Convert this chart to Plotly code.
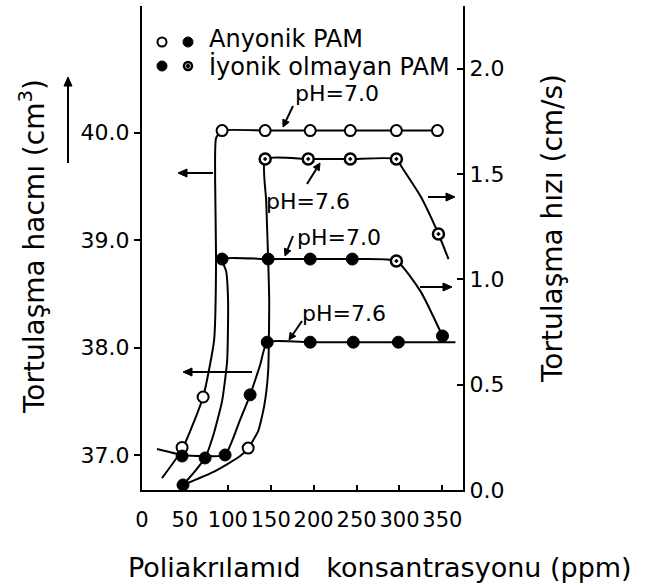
import math
import plotly.graph_objects as go

# ---------------- data ----------------
# Anyonik PAM, pH 7.0 - tortulaşma hacmi (cm3), open circles (left axis)
v70_mx = [46.7, 71.2, 93.3, 143.5, 196.0, 242.7, 296.4, 344.2]
v70_my = [37.07, 37.54, 40.02, 40.02, 40.02, 40.02, 40.02, 40.02]
v70_lx = [23.3, 46.7, 71.2, 84.0, 86.3, 85.2, 86.3, 93.3, 143.5, 196.0, 242.7, 296.4, 344.2]
v70_ly = [36.785, 37.05, 37.54, 38.07, 38.82, 39.56, 39.95, 40.02, 40.02, 40.02, 40.02, 40.02, 40.02]

# İyonik olmayan PAM, pH 7.6 - tortulaşma hızı (cm/s), half markers (right axis)
s76_mx = [143.5, 193.7, 242.7, 296.4, 345.4]
s76_my = [1.571, 1.571, 1.571, 1.571, 1.215]
s76_lx = [47.8, 85.2, 114.4, 123.7, 135.4, 142.4, 147.0, 148.2, 147.0, 144.7, 143.5,
          193.7, 242.7, 296.4, 303.4, 324.4, 345.4, 357.1]
s76_ly = [0.024, 0.090, 0.161, 0.199, 0.280, 0.399, 0.565, 0.897, 1.096, 1.372, 1.571,
          1.571, 1.571, 1.571, 1.528, 1.395, 1.215, 1.096]
s_open_x = [123.7]
s_open_y = [0.199]

# Anyonik PAM, pH 7.0 - tortulaşma hızı (cm/s), filled (right axis)
s70_mx = [47.8, 73.5, 93.3, 147.0, 196.0, 245.0, 350.1]
s70_my = [0.024, 0.152, 1.096, 1.096, 1.096, 1.096, 0.731]
s70_hx = [296.4]
s70_hy = [1.087]
s70_lx = [47.8, 61.8, 73.5, 82.8, 93.3, 99.2, 100.3, 98.0, 93.3, 147.0, 196.0, 245.0,
          296.4, 324.4, 350.1]
s70_ly = [0.024, 0.090, 0.152, 0.256, 0.422, 0.612, 0.897, 1.039, 1.096, 1.096, 1.096,
          1.096, 1.087, 0.944, 0.731]

# İyonik olmayan PAM, pH 7.6 - tortulaşma hacmi (cm3), filled (left axis)
v76_mx = [46.7, 96.8, 126.0, 145.9, 196.0, 246.2, 298.7]
v76_my = [36.99, 37.0, 37.56, 38.05, 38.05, 38.05, 38.05]
v76_lx = [17.5, 46.7, 73.5, 96.8, 114.4, 126.0, 137.7, 145.9, 196.0, 246.2, 298.7, 365.2]
v76_ly = [37.055, 37.0, 36.99, 37.0, 37.33, 37.56, 37.84, 38.05, 38.05, 38.05, 38.05, 38.05]

x_ticks = [0, 50, 100, 150, 200, 250, 300, 350]
y_ticks = [37.0, 38.0, 39.0, 40.0]
y2_ticks = [0.0, 0.5, 1.0, 1.5, 2.0]

# ---------------- layout geometry ----------------
W, H = 645, 588
L, R, T, B = 142, 182, 6, 98
PW, PH = W - L - R, H - T - B


def px(x):
    return (x - L) / PW


def py(y):
    return (H - B - y) / PH


FONT = "DejaVu Sans"
BLACK = "black"

fig = go.Figure()

line_style = dict(color=BLACK, width=2, shape="spline", smoothing=0.5)

fig.add_trace(go.Scatter(x=v70_lx, y=v70_ly, mode="lines", line=line_style, yaxis="y"))
fig.add_trace(go.Scatter(x=v76_lx, y=v76_ly, mode="lines", line=line_style, yaxis="y"))
fig.add_trace(go.Scatter(x=s76_lx, y=s76_ly, mode="lines", line=line_style, yaxis="y2"))
fig.add_trace(go.Scatter(x=s70_lx, y=s70_ly, mode="lines", line=line_style, yaxis="y2"))

open_m = dict(symbol="circle", size=11, color="white", line=dict(color=BLACK, width=2))
fill_m = dict(symbol="circle", size=12, color=BLACK, line=dict(color=BLACK, width=1))
half_m = dict(symbol="circle-dot", size=11, color="white", line=dict(color=BLACK, width=2.5))

fig.add_trace(go.Scatter(x=v70_mx, y=v70_my, mode="markers", marker=open_m, yaxis="y"))
fig.add_trace(go.Scatter(x=v76_mx, y=v76_my, mode="markers", marker=fill_m, yaxis="y"))
fig.add_trace(go.Scatter(x=s76_mx, y=s76_my, mode="markers", marker=half_m, yaxis="y2"))
fig.add_trace(go.Scatter(x=s_open_x, y=s_open_y, mode="markers", marker=open_m, yaxis="y2"))
fig.add_trace(go.Scatter(x=s70_mx, y=s70_my, mode="markers", marker=fill_m, yaxis="y2"))
fig.add_trace(go.Scatter(x=s70_hx, y=s70_hy, mode="markers", marker=half_m, yaxis="y2"))

annotations = []
shapes = []


def text(xp, yp, s, size=22, angle=0, xanchor="center"):
    annotations.append(dict(x=px(xp), y=py(yp), xref="paper", yref="paper", text=s,
                            showarrow=False, textangle=angle, xanchor=xanchor,
                            yanchor="middle", font=dict(family=FONT, size=size, color=BLACK)))


def arrow(x0, y0, x1, y1, hl=9, hw=4):
    dx, dy = x1 - x0, y1 - y0
    d = math.hypot(dx, dy)
    ux, uy = dx / d, dy / d
    bx, by = x1 - ux * hl, y1 - uy * hl
    shapes.append(dict(type="line", xref="paper", yref="paper",
                       x0=px(x0), y0=py(y0), x1=px(bx), y1=py(by),
                       line=dict(color=BLACK, width=2)))
    p1 = (bx - uy * hw, by + ux * hw)
    p2 = (bx + uy * hw, by - ux * hw)
    path = (f"M {px(x1)} {py(y1)} L {px(p1[0])} {py(p1[1])} "
            f"L {px(p2[0])} {py(p2[1])} Z")
    shapes.append(dict(type="path", xref="paper", yref="paper", path=path,
                       fillcolor=BLACK, line=dict(color=BLACK, width=1)))


# pH labels
text(337, 94, "pH=7.0")
text(308, 201, "pH=7.6")
text(339, 237, "pH=7.0")
text(344, 313, "pH=7.6")
arrow(293, 106, 283, 127, hl=7, hw=3.5)
arrow(307, 184, 320, 163, hl=7, hw=3.5)
arrow(293, 236, 285, 256, hl=7, hw=3.5)
arrow(302, 321, 289, 340, hl=7, hw=3.5)

# direction arrows
arrow(213, 173, 178, 173)
arrow(252, 372, 183, 372)
arrow(428, 197, 455, 197)
arrow(420, 287, 452, 287)

# legend text
text(207, 39, "Anyonik PAM", size=24, xanchor="left")
text(207, 67, "İyonik olmayan PAM", size=24, xanchor="left")

# axis titles
text(33, 247, "Tortulaşma hacmı (cm<sup>3</sup>)", size=28, angle=-90)
arrow(68, 163, 68, 77)
text(553, 229, "Tortulaşma hızı (cm/s)", size=28, angle=-90)
text(380, 567, "Poliakrılamıd\u00a0\u00a0 konsantrasyonu (ppm)", size=27)


def circ(cx, cy, r, fill, lw=2):
    shapes.append(dict(type="circle", xref="paper", yref="paper",
                       x0=px(cx - r), x1=px(cx + r), y0=py(cy + r), y1=py(cy - r),
                       fillcolor=fill, line=dict(color=BLACK, width=lw)))


circ(162, 42, 4.5, "white")
circ(188, 42, 5, BLACK, 1)
circ(162, 66, 5, BLACK, 1)
circ(188, 66, 4, "white", 2.5)
shapes.append(dict(type="circle", xref="paper", yref="paper",
                   x0=px(186.5), x1=px(189.5), y0=py(68), y1=py(64),
                   fillcolor=BLACK, line=dict(color=BLACK, width=1)))

fig.update_layout(
    width=W, height=H,
    margin=dict(l=L, r=R, t=T, b=B, pad=0),
    paper_bgcolor="white", plot_bgcolor="white",
    showlegend=False,
    font=dict(family=FONT, color=BLACK),
    annotations=annotations,
    shapes=shapes,
    xaxis=dict(range=[0, 374], showline=True, linecolor=BLACK, linewidth=2,
               showgrid=False, zeroline=False, ticks="inside", ticklen=5,
               tickwidth=1.5, tickcolor=BLACK, tickvals=x_ticks,
               ticktext=[str(v) for v in x_ticks], ticklabelstandoff=10,
               tickangle=0,
               tickfont=dict(family=FONT, size=21, color=BLACK)),
    yaxis=dict(range=[36.674, 41.18], showline=True, linecolor=BLACK, linewidth=2,
               showgrid=False, zeroline=False, ticks="outside", ticklen=6,
               tickwidth=1.5, tickcolor=BLACK, tickvals=y_ticks,
               ticktext=[f"{v:.1f}" for v in y_ticks],
               tickfont=dict(family=FONT, size=22, color=BLACK)),
    yaxis2=dict(range=[0, 2.297], overlaying="y", side="right", anchor="x",
                showline=True, linecolor=BLACK, linewidth=2, showgrid=False,
                zeroline=False, ticks="inside", ticklen=6, tickwidth=1.5,
                tickcolor=BLACK, tickvals=y2_ticks,
                ticktext=[f"{v:.1f}" for v in y2_ticks],
                tickfont=dict(family=FONT, size=22, color=BLACK)),
)

fig.write_html("out.html")
